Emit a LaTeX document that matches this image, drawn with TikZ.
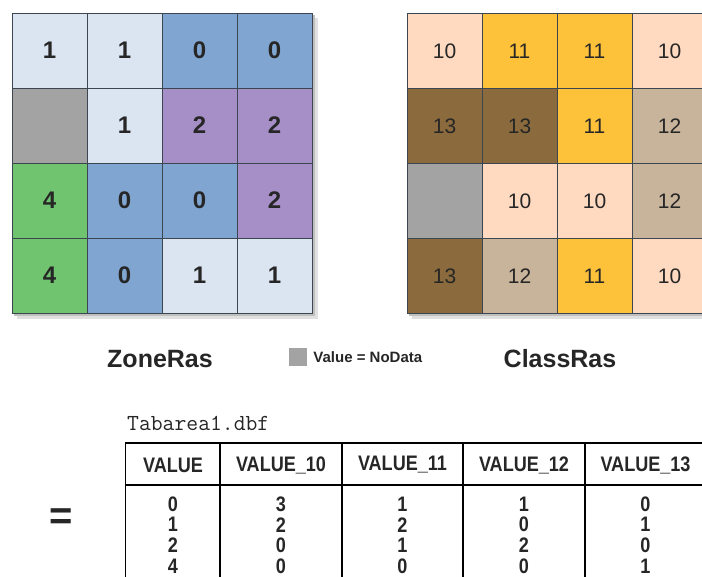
\documentclass[tikz,border=0pt]{standalone}
\usepackage{fontspec}
\setmainfont{Liberation Sans}
\newfontfamily\narrowfont[FakeStretch=0.86]{Liberation Sans}
\usetikzlibrary{positioning}

\definecolor{zc0}{HTML}{7FA5D0}
\definecolor{zc1}{HTML}{DBE5F1}
\definecolor{zc2}{HTML}{A68EC7}
\definecolor{zc4}{HTML}{70C470}
\definecolor{zcN}{HTML}{A3A3A3}
\definecolor{cc10}{HTML}{FFDAC0}
\definecolor{cc11}{HTML}{FEC23A}
\definecolor{cc12}{HTML}{C8B49B}
\definecolor{cc13}{HTML}{8B6B3D}
\definecolor{ccN}{HTML}{A3A3A3}
\definecolor{gridline}{HTML}{3C4650}
\definecolor{inktext}{HTML}{262626}

\newcommand\cellnum[1]{\if N#1\else#1\fi}

\begin{document}
\begin{tikzpicture}[
    x=1pt, y=-1pt,
    every node/.style={text=inktext, inner sep=0pt},
    zcell/.style={draw=gridline, line width=0.8pt, minimum size=75pt,
        font=\fontsize{24}{24}\selectfont\bfseries},
    ccell/.style={draw=gridline, line width=0.8pt, minimum size=75pt,
        font=\fontsize{21}{21}\selectfont},
    rastitle/.style={font=\fontsize{25}{25}\selectfont\bfseries},
    headcell/.style={font=\fontsize{21}{21}\narrowfont\bfseries},
    datacell/.style={font=\fontsize{21}{21}\narrowfont\bfseries}
]
\useasboundingbox (0,0) rectangle (702,577);
\clip (0,0) rectangle (702,577);

% shadows
\fill[black!12] (17,18) rectangle (318,319);
\fill[black!25] (14,15) rectangle (315,316);
\fill[black!12] (412,19) rectangle (712,319);
\fill[black!25] (409,16) rectangle (709,316);

% zone raster
\foreach \row [count=\r] in {{1,1,0,0},{N,1,2,2},{4,0,0,2},{4,0,1,1}}
  \foreach \v [count=\c] in \row
    \node[zcell, fill=zc\v] (z-\r-\c) at (49.5+75*\c-75, 50.5+75*\r-75) {\cellnum{\v}};

% class raster
\foreach \row [count=\r] in {{10,11,11,10},{13,13,11,12},{N,10,10,12},{13,12,11,10}}
  \foreach \v [count=\c] in \row
    \node[ccell, fill=cc\v] (c-\r-\c) at (444.5+75*\c-75, 51+75*\r-75) {\cellnum{\v}};

\node[rastitle] (zoneras) at (160,359) {ZoneRas};
\node[rastitle] (classras) at (560,359) {ClassRas};

% legend
\node[fill=zcN, minimum size=18pt] (nd) at (298,357) {};
\node[right=6pt of nd, font=\fontsize{15}{15}\selectfont\bfseries] (ndtext) {Value = NoData};

% result table
\node[font=\fontsize{40}{40}\selectfont\bfseries] (eq) at (61,519) {=};
\node[anchor=west, font=\fontsize{23}{23}\ttfamily] (dbf) at (127,423) {Tabarea1.dbf};

\draw[line width=1.3pt] (125.7,600) -- (125.7,443) -- (710,443);
\draw[line width=1.6pt] (125.7,485) -- (710,485);
\foreach \xx in {220,342,463,585}
  \draw[line width=1.2pt] (\xx,443) -- (\xx,600);

\foreach \h [count=\c] in {VALUE,VALUE\_10,VALUE\_11,VALUE\_12,VALUE\_13}
  \node[headcell] (h\c) at ({\c==1 ? 173 : 281+121.5*(\c-2)},465) {\h};

\foreach \col [count=\c] in {{0,1,2,4},{3,2,0,0},{1,2,1,0},{1,0,2,0},{0,1,0,1}}
  \foreach \v [count=\r] in \col
    \node[datacell] (d-\r-\c) at ({\c==1 ? 173 : 281+121.5*(\c-2)},504+20.7*\r-20.7) {\v};

\end{tikzpicture}
\end{document}
